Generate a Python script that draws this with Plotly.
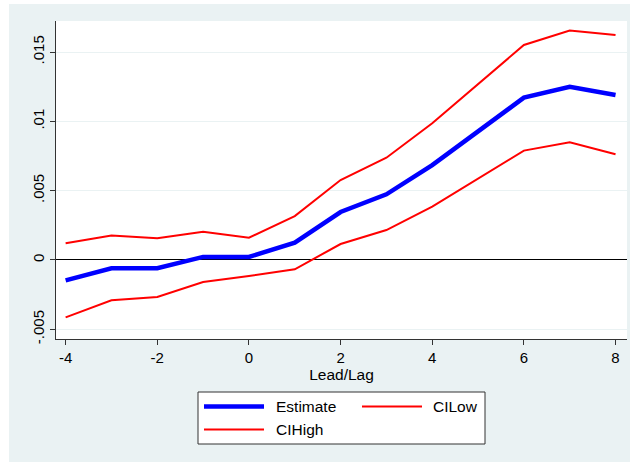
import plotly.graph_objects as go

# Event-study coefficients by lead/lag
lead_lag = [-4, -3, -2, -1, 0, 1, 2, 3, 4, 5, 6, 7, 8]
estimate = [-0.00147, -0.00060, -0.00060, 0.00022, 0.00022, 0.00125, 0.00346,
            0.00474, 0.00685, 0.00928, 0.01171, 0.01250, 0.01190]
ci_low = [-0.00414, -0.00291, -0.00267, -0.00159, -0.00115, -0.00067, 0.00115,
          0.00216, 0.00385, 0.00587, 0.00789, 0.00849, 0.00763]
ci_high = [0.00120, 0.00176, 0.00156, 0.00204, 0.00161, 0.00317, 0.00577,
           0.00738, 0.00986, 0.01270, 0.01551, 0.01655, 0.01623]

y_tickvals = [-0.005, 0, 0.005, 0.01, 0.015]
y_ticktext = ["-.005", "0", ".005", ".01", ".015"]
x_tickvals = [-4, -2, 0, 2, 4, 6, 8]
x_ticktext = ["-4", "-2", "0", "2", "4", "6", "8"]

W, H = 633, 465
ML, MR, MT, MB = 56, 6, 21, 126
PW, PH = W - ML - MR, H - MT - MB

BG = "#EAF2F3"
FONT = "Liberation Sans, Arial, sans-serif"


def px_x(px):
    return (px - ML) / PW


def px_y(py):
    return (H - MB - py) / PH


fig = go.Figure()
fig.add_trace(go.Scatter(x=lead_lag, y=estimate, mode="lines", name="Estimate",
                         line=dict(color="#0000FF", width=4.5), showlegend=False))
fig.add_trace(go.Scatter(x=lead_lag, y=ci_low, mode="lines", name="CILow",
                         line=dict(color="#FF0000", width=2), showlegend=False))
fig.add_trace(go.Scatter(x=lead_lag, y=ci_high, mode="lines", name="CIHigh",
                         line=dict(color="#FF0000", width=2), showlegend=False))

shapes = []
# white page border around the graph region
for x0, y0, x1, y1 in [(0, 0, 9, H), (0, 0, W, 4), (630, 0, W, H), (0, 462, W, H)]:
    shapes.append(dict(type="rect", xref="paper", yref="paper", layer="below",
                       x0=px_x(x0), x1=px_x(x1), y0=px_y(y0), y1=px_y(y1),
                       fillcolor="white", line=dict(width=0)))

# legend box
shapes.append(dict(type="rect", xref="paper", yref="paper",
                   x0=px_x(198), x1=px_x(485), y0=px_y(392), y1=px_y(444),
                   fillcolor="white", line=dict(color="#333333", width=1)))

annotations = []
legend_items = [
    ("Estimate", "#0000FF", 4.5, 204, 264, 274, 406.5),
    ("CILow", "#FF0000", 2, 362, 422, 431, 406.5),
    ("CIHigh", "#FF0000", 2, 204, 264, 274, 429.5),
]
for label, color, width, sx0, sx1, tx, ty in legend_items:
    shapes.append(dict(type="line", xref="paper", yref="paper",
                       x0=px_x(sx0), x1=px_x(sx1), y0=px_y(ty), y1=px_y(ty),
                       line=dict(color=color, width=width)))
    annotations.append(dict(text=label, xref="paper", yref="paper",
                            x=px_x(tx), y=px_y(ty), xanchor="left", yanchor="middle",
                            showarrow=False, font=dict(size=15.5, color="black", family=FONT)))

fig.update_layout(
    width=W, height=H,
    margin=dict(l=ML, r=MR, t=MT, b=MB),
    paper_bgcolor=BG,
    plot_bgcolor="white",
    font=dict(family=FONT, size=15, color="black"),
    shapes=shapes,
    annotations=annotations,
    showlegend=False,
)

fig.update_xaxes(
    range=[-4.21, 8.25],
    tickvals=x_tickvals, ticktext=x_ticktext,
    ticks="outside", ticklen=5, tickcolor="#333333",
    showline=True, linecolor="#333333", linewidth=1,
    showgrid=False, zeroline=False,
    title=dict(text="Lead/Lag", font=dict(size=15.5), standoff=3),
    tickfont=dict(size=15),
)
fig.update_yaxes(
    range=[-0.0057, 0.01724],
    tickvals=y_tickvals, ticktext=y_ticktext,
    tickangle=-90,
    ticks="outside", ticklen=5, tickcolor="#333333",
    showline=True, linecolor="#333333", linewidth=1,
    showgrid=True, gridcolor=BG, gridwidth=1,
    zeroline=True, zerolinecolor="black", zerolinewidth=1,
    tickfont=dict(size=15),
)

fig.write_html("out.html")
